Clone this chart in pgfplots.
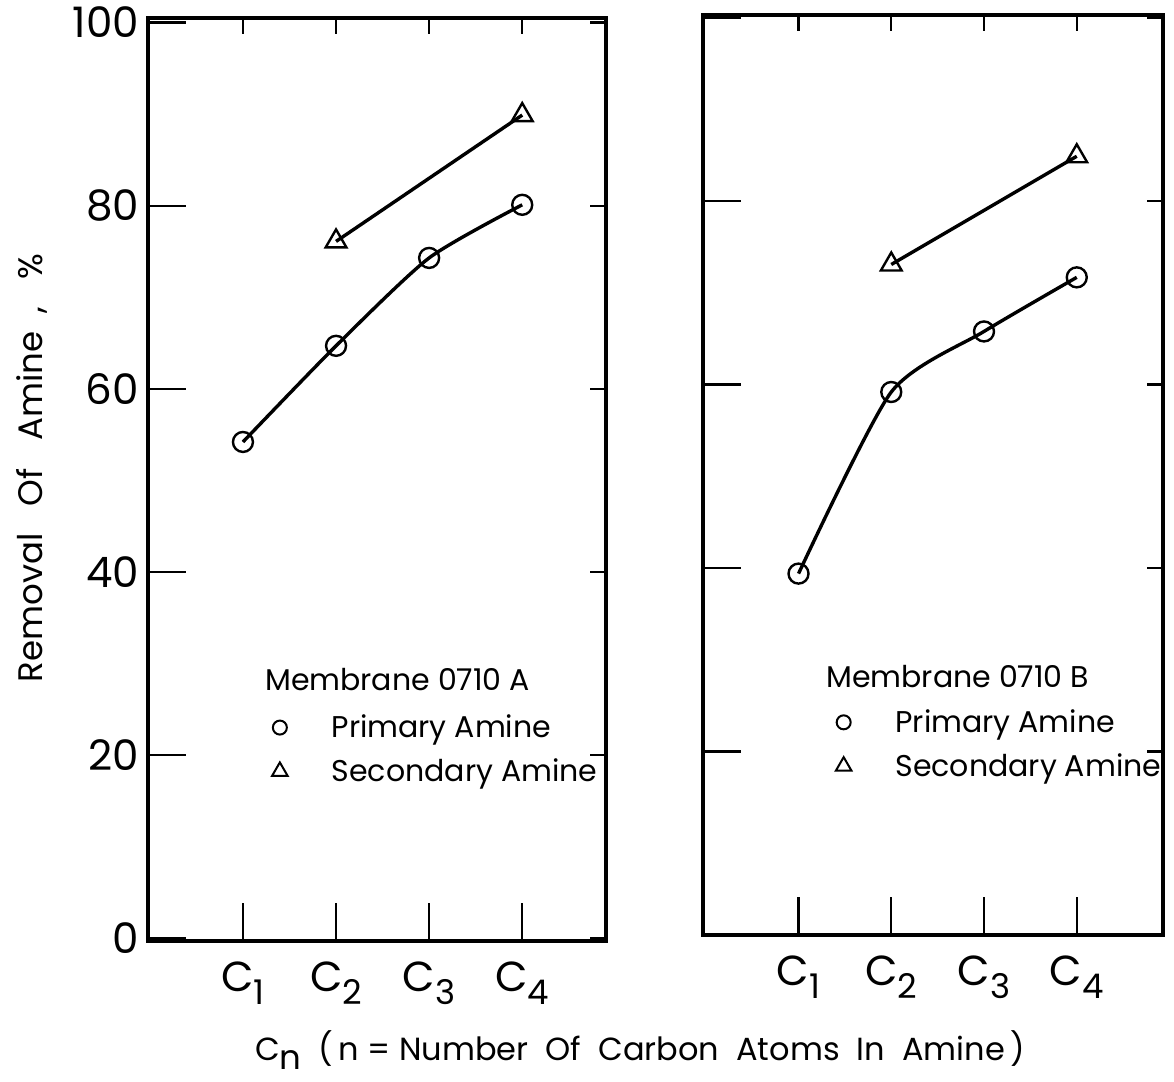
\documentclass[border=0pt]{standalone}
\usepackage{fontspec}
\setmainfont{Poppins}
\usepackage{pgfplots}
\pgfplotsset{compat=1.18}
\newcommand\Cn[1]{C\raisebox{-0.55ex}{\fontsize{17}{17}\selectfont #1}}
\pgfplotsset{
  panel/.style={
    scale only axis,
    axis line style={line width=2.2pt},
    xmin=-0.02, xmax=4.9,
    xtick={1,2,3,4},
    ytick={0,20,40,60,80,100},
    tick align=inside,
    tick style={line width=1.2pt, black},
    /pgf/number format/assume math mode=true,
    ticklabel style={font=\fontsize{21}{21}\selectfont},
    clip=false,
  },
  mainpanel/.style={panel,
    xtick pos=bottom, ytick pos=left,
    major tick length=19pt,
    xticklabels={\Cn{1},\Cn{2},\Cn{3},\Cn{4}},
    xticklabel style={yshift=-7pt},
  },
  overpanel/.style={panel,
    axis x line*=top, axis y line*=right,
    major tick length=8pt,
    xticklabels={}, yticklabels={},
  },
  curve/.style={black, line width=1.7pt, smooth, tension=0.4,
    mark options={solid, fill=white, line width=1.2pt}},
  leg/.style={legend style={draw=none, fill=none,
    font=\fontsize{15}{15}\selectfont, row sep=5pt, inner sep=0pt},
    legend cell align=left},
}
\begin{document}
\begin{tikzpicture}
\useasboundingbox (0,0) rectangle (587pt,-541pt);
% ---------- left panel ----------
\begin{axis}[mainpanel, leg, at={(74pt,-470.5pt)}, anchor=south west,
  width=229pt, height=461.5pt, ymin=-0.3, ymax=100.5,
  yticklabel style={xshift=-1pt},
  legend style={at={(axis description cs:0.27,0.25)}, anchor=north west}]
\addplot[curve, mark=o, mark size=5pt, forget plot] coordinates {(1,54.2) (2,64.7) (3,74.3) (4,80.1)};
\addplot[curve, mark=triangle, mark size=6pt, forget plot] coordinates {(2,76.1) (4,89.9)};
\addlegendimage{only marks, mark=o, mark size=3.5pt, line width=1pt}
\addlegendentry{\hspace{20pt}Primary Amine}
\addlegendimage{only marks, mark=triangle, mark size=4.5pt, line width=1pt}
\addlegendentry{\hspace{20pt}Secondary Amine}
\node[anchor=west, font=\fontsize{15}{15}\selectfont, inner sep=0pt] at (rel axis cs:0.255,0.283) {Membrane 0710 A};
\end{axis}
\begin{axis}[overpanel, at={(74pt,-470.5pt)}, anchor=south west,
  width=229pt, height=461.5pt, ymin=-0.3, ymax=100.5]
\end{axis}
% ---------- right panel ----------
\begin{axis}[mainpanel, leg, at={(351.5pt,-467.5pt)}, anchor=south west,
  width=230pt, height=460pt, xmin=-0.03, xmax=4.93, ymin=0, ymax=100.3,
  yticklabels={},
  legend style={at={(axis description cs:0.288,0.25)}, anchor=north west}]
\addplot[curve, mark=o, mark size=5pt, forget plot] coordinates {(1,39.4) (2,59.2) (3,65.8) (4,71.7)};
\addplot[curve, mark=triangle, mark size=6pt, forget plot] coordinates {(2,73.1) (4,84.9)};
\addlegendimage{only marks, mark=o, mark size=3.5pt, line width=1pt}
\addlegendentry{\hspace{20pt}Primary Amine}
\addlegendimage{only marks, mark=triangle, mark size=4.5pt, line width=1pt}
\addlegendentry{\hspace{20pt}Secondary Amine}
\node[anchor=west, font=\fontsize{15}{15}\selectfont, inner sep=0pt] at (rel axis cs:0.267,0.281) {Membrane 0710 B};
\end{axis}
\begin{axis}[overpanel, at={(351.5pt,-467.5pt)}, anchor=south west,
  width=230pt, height=460pt, xmin=-0.03, xmax=4.93, ymin=0, ymax=100.3]
\end{axis}
% ---------- axis titles ----------
\node[rotate=90, font=\fontsize{17}{17}\selectfont] at (16pt,-234pt) {Removal\ \ \ Of\ \ \ Amine\ \ ,\ \ \ \%};
\node[font=\fontsize{16}{16}\selectfont] at (320pt,-525pt) {\Cn{n}\ \ (\,n\ =\ Number\ \ Of\ \ Carbon\ \ Atoms\ \ In\ \ Amine\,)};
\end{tikzpicture}
\end{document}
